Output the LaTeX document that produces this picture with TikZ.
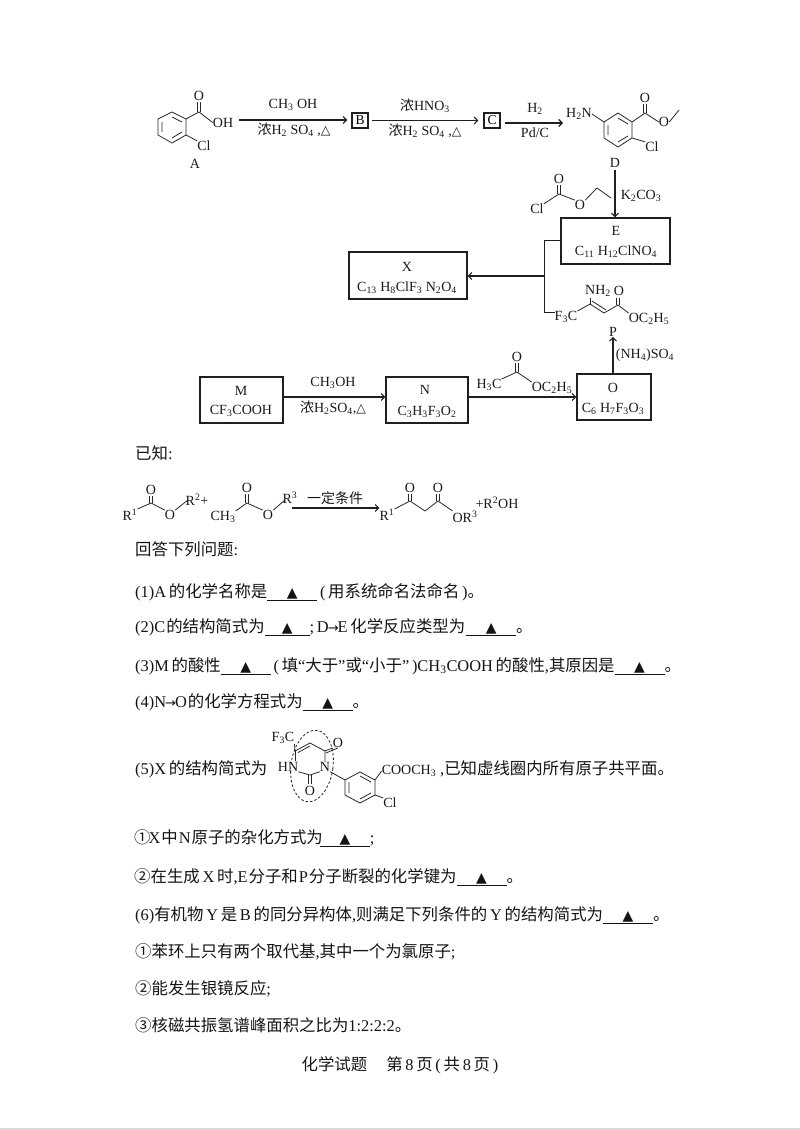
\documentclass[tikz,border=0pt]{standalone}
\usepackage{fontspec}
\usetikzlibrary{arrows.meta}
\setmainfont{Liberation Serif}
\newfontfamily\cjk{Noto Sans CJK SC}
\newfontfamily\dejavu{DejaVu Sans}
\newcommand{\zh}[1]{{\cjk #1}}
\newcommand{\tri}{{\dejavu\fontsize{14}{14}\selectfont ▲}}
\newcommand{\blk}[1][50]{\underline{\makebox[#1pt]{\tri}}}
\newcommand{\sbs}[1]{\textsubscript{#1}}
\newcommand{\dl}{{\dejavu\fontsize{12.5}{13}\selectfont △}}
\newcommand{\rarr}{{\dejavu\fontsize{13}{13}\selectfont →}}
\tikzset{
 ink/.style={draw=black!88,line width=1pt},
 bond/.style={draw=black!85,line width=.8pt},
 arr/.style={draw=black!88,line width=1.1pt,-{Straight Barb[length=3.5pt,width=7pt]}},
 chem/.style={inner sep=0pt,font=\fontsize{14}{16}\selectfont,text=black!90},
 chembox/.style={draw=black!88,line width=1.1pt,inner sep=0pt},
 para/.style={inner sep=0pt,anchor=west,font=\fontsize{16.4}{18}\selectfont,text=black!92},
}
\begin{document}
\begin{tikzpicture}[x=1pt,y=-1pt]
\useasboundingbox (0,0) rectangle (800,1130);
\fill[black!15] (0,1128) rectangle (800,1130);
% --- A
\node[chem] (aO) at (199,96) {O};
\node[chem] (aOH) at (223,122.5) {OH};
\node[chem] (aCl) at (204,146) {Cl};
\node[chem] (aA) at (195,164) {A};
\draw[bond] (172,112)--(186,119)--(186,135)--(172,143)--(158,135)--(158,119)--cycle;
\draw[bond] (172,117)--(182,122) (182,132)--(172,138) (162,132)--(162,122);
\draw[bond] (186,119)--(199,112)--(aOH.west);
\draw[bond] (197.5,112)--(197.5,102) (200.5,112)--(200.5,102);
\draw[bond] (186,135)--(aCl.north west);
% --- boxes B, C
\node[chembox,minimum width=16pt,minimum height=15pt] (bB) at (360,120.5) {\fontsize{13.5}{14}\selectfont B};
\node[chembox,minimum width=16pt,minimum height=15pt] (bC) at (492,120.5) {\fontsize{13.5}{14}\selectfont C};
\coordinate (a1s) at (239,120);
\coordinate (a3e) at (563,123);
\draw[arr] (a1s) -- ([xshift=-4pt]bB.west|-a1s);
\draw[arr] ([xshift=3pt]bB.east) -- ([xshift=-5pt]bC.west);
\coordinate (a3s) at (bC.east|-a3e);
\draw[arr] ([xshift=4pt]a3s) -- (a3e);
\node[chem] (t1) at (293,105) {CH\sbs{3} OH};
\node[chem] (t2) at (294,130) {\zh{浓}H\sbs{2} SO\sbs{4} ,\dl};
\node[chem] (t3) at (425,106) {\zh{浓}HNO\sbs{3}};
\node[chem] (t4) at (425,131) {\zh{浓}H\sbs{2} SO\sbs{4} ,\dl};
\node[chem] (t5) at (535,109) {H\sbs{2}};
\node[chem] (t6) at (535,133) {Pd/C};
% --- D
\node[chem] (dN) at (579,114) {H\sbs{2}N};
\node[chem] (dO) at (645,98) {O};
\node[chem] (dO2) at (664,122) {O};
\node[chem] (dCl) at (652,147) {Cl};
\node[chem] (dD) at (615,163) {D};
\draw[bond] (604,122)--(618,113)--(632,122)--(632,138)--(618,147)--(604,138)--cycle;
\draw[bond] (618,118)--(628,124) (628,136)--(618,142) (608,135)--(608,125);
\draw[bond] (dN.east)--(604,122);
\draw[bond] (632,122)--(645,113)--(dO2.west);
\draw[bond] (643.5,113)--(643.5,104) (646.5,113)--(646.5,104);
\draw[bond] (dO2.east)--(679,110);
\draw[bond] (632,138)--(dCl.north west);
% --- chloroformate
\node[chem] (cCl) at (537,209) {Cl};
\node[chem] (cO) at (559,179) {O};
\node[chem] (cO2) at (580,205) {O};
\draw[bond] (cCl.north east)--(559,194)--(cO2.north west);
\draw[bond] (557.5,194)--(557.5,185) (560.5,194)--(560.5,185);
\draw[bond] (cO2.north east)--(597,188)--(611,198);
\node[chem] (k) at (641,196) {K\sbs{2}CO\sbs{3}};
% --- E
\node[chembox,minimum width=109pt,minimum height=46pt] (bE) at (615.5,241) {};
\node[chem] (eE) at (616,231) {E};
\node[chem] (eF) at (616,252) {C\sbs{11} H\sbs{12}ClNO\sbs{4}};
\draw[arr] (dD.south) ++(0,2) -- (bE.north-|dD);
% --- X
\node[chembox,minimum width=118pt,minimum height=47pt] (bX) at (408,275.5) {};
\node[chem] (xX) at (407,267) {X};
\node[chem] (xF) at (407,288) {C\sbs{13} H\sbs{8}ClF\sbs{3} N\sbs{2}O\sbs{4}};
% --- P
\node[chem] (pF) at (566,317) {F\sbs{3}C};
\node[chem] (pN) at (598,291) {NH\sbs{2}};
\node[chem] (pO) at (619,291) {O};
\node[chem] (pOE) at (649,319) {OC\sbs{2}H\sbs{5}};
\node[chem] (pP) at (613,332) {P};
\draw[bond] (pF.north east)--(590,304)--(604,313)--(618,305)--(pOE.north west);
\draw[bond] (592,301)--(606,310);
\draw[bond] (590,304)--(590,298);
\draw[bond] (616.5,305)--(616.5,298) (619.5,305)--(619.5,298);
% branch
\coordinate (br) at (544,240);
\coordinate (bm) at (544,276);
\coordinate (bl) at (544,312);
\draw[ink] (bE.west|-br)--(br)--(bl)--(pF.west|-bl);
\draw[arr] (bm)--(bX.east|-bm);
% --- M N O
\node[chembox,minimum width=83pt,minimum height=46pt] (bM) at (241.5,400) {};
\node[chem] (mM) at (241,391) {M};
\node[chem] (mF) at (241,411) {CF\sbs{3}COOH};
\node[chembox,minimum width=82pt,minimum height=46pt] (bN) at (427,400) {};
\node[chem] (nN) at (425,390) {N};
\node[chem] (nF) at (427,412) {C\sbs{3}H\sbs{3}F\sbs{3}O\sbs{2}};
\node[chembox,minimum width=74pt,minimum height=46pt] (bO) at (614,397) {};
\node[chem] (oO) at (613,388) {O};
\node[chem] (oF) at (613,409) {C\sbs{6} H\sbs{7}F\sbs{3}O\sbs{3}};
\coordinate (mn) at (283,397);
\draw[arr] (mn)--(bN.west|-mn);
\coordinate (no) at (468,397);
\draw[arr] (no)--(bO.west|-no);
\draw[arr] (bO.north-|pP) -- (pP.south);
\node[chem] (t7) at (333,383) {CH\sbs{3}OH};
\node[chem] (t8) at (333,408) {\zh{浓}H\sbs{2}SO\sbs{4},\dl};
\node[chem] (t9) at (645,355) {(NH\sbs{4})SO\sbs{4}};
\node[chem] (qC) at (489,385) {H\sbs{3}C};
\node[chem] (qO) at (517,357) {O};
\node[chem] (qE) at (552,388) {OC\sbs{2}H\sbs{5}};
\draw[bond] (qC.north east)--(517,372)--(qE.north west);
\draw[bond] (515.5,372)--(515.5,363) (518.5,372)--(518.5,363);
% --- known
\node[para] (l0) at (135,453) {\zh{已知}:};
\node[chem] (r1) at (130,515) {R\textsuperscript{1}};
\node[chem] (r1o) at (151,490) {O};
\node[chem] (r1oo) at (170,515) {O};
\node[chem] (r2) at (197,500) {R\textsuperscript{2}+};
\draw[bond] (r1.north east)--(151,503)--(r1oo.north west);
\draw[bond] (149.5,503)--(149.5,496) (152.5,503)--(152.5,496);
\draw[bond] (r1oo.north east)--(188,500);
\node[chem] (r3c) at (223,517) {CH\sbs{3}};
\node[chem] (r3o) at (247,488) {O};
\node[chem] (r3oo) at (268,515) {O};
\node[chem] (r3) at (290,498) {R\textsuperscript{3}};
\draw[bond] (r3c.north east)--(247,503)--(r3oo.north west);
\draw[bond] (245.5,503)--(245.5,494) (248.5,503)--(248.5,494);
\draw[bond] (r3oo.north east)--(285,500);
\node[chem] (cond) at (335,498) {\zh{一定条件}};
\node[chem] (p1) at (387,515) {R\textsuperscript{1}};
\node[chem] (p1o) at (410,488) {O};
\node[chem] (p2o) at (438,488) {O};
\node[chem] (p3) at (465,517) {OR\textsuperscript{3}};
\node[chem] (p4) at (497,503) {+R\textsuperscript{2}OH};
\coordinate (ks) at (292,508);
\draw[arr] (ks)--(p1.north west|-ks);
\draw[bond] (p1.north east)--(410,501)--(425,511)--(438,501)--(p3.north west);
\draw[bond] (408.5,501)--(408.5,494) (411.5,501)--(411.5,494);
\draw[bond] (436.5,501)--(436.5,494) (439.5,501)--(439.5,494);
% --- questions
\node[para] (l1) at (135,549) {\zh{回答下列问题}:};
\node[para] (l2) at (135,592) {(1)A\,\zh{的化学名称是}\blk\,(\,\zh{用系统命名法命名}\,)\zh{。}};
\node[para] (l3) at (135,627) {(2)C\kern1pt\zh{的结构简式为}\blk[45];\,D\kern-1pt\rarr\kern-1pt E\,\zh{化学反应类型为}\hspace{1pt}\blk\zh{。}};
\node[para] (l4) at (135,666) {(3)M\,\zh{的酸性}\blk\,(\,\zh{填}“\zh{大于}”\zh{或}“\zh{小于}”\,)CH\sbs{3}COOH\,\zh{的酸性},\zh{其原因是}\blk\zh{。}};
\node[para] (l5) at (135,702) {(4)N\kern-1pt\rarr\kern-1pt O\kern1pt\zh{的化学方程式为}\blk\zh{。}};
\node[para] (l6) at (135,769) {(5)X\,\zh{的结构简式为}};
\node[para] (l6b) at (440,769) {,\zh{已知虚线圈内所有原子共平面。}};
\node[chem] (uF) at (283,738) {F\sbs{3}C};
\node[chem] (uN) at (288,767) {HN};
\node[chem] (uN2) at (325,767) {N};
\node[chem] (uO) at (338,743) {O};
\node[chem] (uO2) at (310,791) {O};
\node[chem] (uC) at (409,771) {COOCH\sbs{3}};
\node[chem] (uCl) at (390,803) {Cl};
\draw[bond] (uF.south east)--(295,751)--(310,743)--(325,751)--(uN2.north);
\draw[bond] (298,752.5)--(310,746);
\draw[bond] (295,751)--(295,761);
\draw[bond] (uN.south east)--(310,775)--(uN2.south west);
\draw[bond] (308.5,775)--(308.5,784) (311.5,775)--(311.5,784);
\draw[bond] (325,751)--(uO.south west);
\draw[bond] (326,753)--(uO.south);
\draw[bond] (uN2.south east)--(345,780);
\draw[bond] (345,780)--(360,772)--(375,780)--(375,795)--(360,803)--(345,795)--cycle;
\draw[bond] (360,776)--(371,782) (371,793)--(360,799) (349,793)--(349,782);
\draw[bond] (375,780)--(uC.west);
\draw[bond] (375,795)--(uCl.north west);
\draw[draw=black!85,line width=.8pt,dash pattern=on 2.5pt off 2pt,rotate around={-8:(312,766)}] (312,766) ellipse (21pt and 36pt);
\node[para] (l7) at (135,838) {{\cjk\kern-1pt ①}\kern-2pt X\kern1pt\zh{中}\kern1pt N\kern1pt\zh{原子的杂化方式为}\kern-3pt\blk;};
\node[para] (l8) at (135,877) {{\cjk\kern-1pt ②}\zh{在生成}\,X\,\zh{时},E\kern1pt\zh{分子和}\kern1pt P\kern1pt\zh{分子断裂的化学键为}\blk\zh{。}};
\node[para] (l9) at (135,915) {(6)\zh{有机物}\,Y\,\zh{是}\,B\,\zh{的同分异构体},\zh{则满足下列条件的}\,Y\,\zh{的结构简式为}\blk\zh{。}};
\node[para] (l10) at (135,952) {\zh{①苯环上只有两个取代基},\zh{其中一个为氯原子};};
\node[para] (l11) at (135,989) {\zh{②能发生银镜反应};};
\node[para] (l12) at (135,1025) {\zh{③核磁共振氢谱峰面积之比为}1:2:2:2\zh{。}};
\node[para,anchor=center] (foot) at (400,1065) {\zh{化学试题}\hspace{19pt}\zh{第}\,8\,\zh{页}\,(\,\zh{共}\,8\,\zh{页}\,)};
\end{tikzpicture}
\end{document}
